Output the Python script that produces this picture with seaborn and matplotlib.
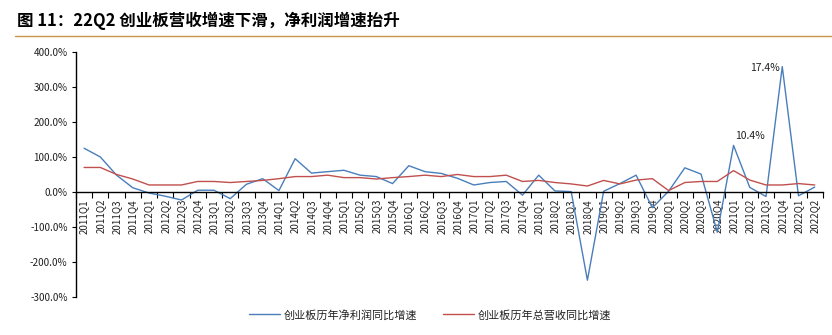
import matplotlib
matplotlib.use("Agg")
import matplotlib.pyplot as plt
from matplotlib.ticker import FixedLocator, FuncFormatter
import numpy as np
import pandas as pd
import seaborn as sns

sns.set_theme(style="white")
plt.rcParams["font.family"] = ["Noto Sans CJK SC", "DejaVu Sans"]
plt.rcParams["axes.unicode_minus"] = False

quarters = [f"{y}Q{q}" for y in range(2011, 2023) for q in range(1, 5)][:46]

net_profit_yoy = [125, 100, 48, 12, -3, -12, -23, 5, 5, -19, 22, 38,
                  4, 95, 54, 58, 62, 48, 44, 24, 75, 58, 53, 39,
                  20, 27, 30, -9, 48, 3, 1, -252, 2, 24, 48, -45,
                  2, 69, 51, -115, 133, 13, -13, 358, -11, 14]

revenue_yoy = [70, 70, 50, 37, 20, 20, 20, 30, 30, 27, 30, 33,
               38, 44, 44, 48, 41, 41, 37, 41, 44, 48, 44, 50,
               44, 44, 48, 30, 33, 27, 23, 17, 33, 23, 34, 38,
               4, 27, 30, 30, 61, 34, 20, 20, 24, 20]

series_names = ["创业板历年净利润同比增速", "创业板历年总营收同比增速"]
series_colors = ["#4a7ebb", "#c0504d"]

y_ticks = [400, 300, 200, 100, 0, -100, -200, -300]

annotations = [("10.4%", 41.0, 160), ("17.4%", 42.85, 354)]

title = "图 11：22Q2 创业板营收增速下滑，净利润增速抬升"

df = pd.DataFrame({
    "idx": list(range(len(quarters))) * 2,
    "value": net_profit_yoy + revenue_yoy,
    "series": [series_names[0]] * len(quarters) + [series_names[1]] * len(quarters),
})

fig = plt.figure(figsize=(8.32, 3.35), dpi=100)
ax = fig.add_axes([0.0913, 0.1134, 0.8977, 0.7316])

sns.lineplot(data=df, x="idx", y="value", hue="series", palette=series_colors,
             hue_order=series_names, linewidth=1.0, ax=ax, legend=False)

ax.set_xlim(-0.5, len(quarters) - 0.5)
ax.set_ylim(-300, 400)
ax.set_xlabel("")
ax.set_ylabel("")

# y axis
ax.set_yticks(y_ticks)
ax.yaxis.set_major_formatter(FuncFormatter(lambda v, p: f"{v:.1f}%"))
ax.tick_params(axis="y", which="major", direction="out", length=3, width=0.8,
               color="black", labelsize=7.2, labelcolor="#222222", pad=3, left=True)

# x axis sits on the zero line: labels at quarter centres, tick marks at boundaries
ax.spines["bottom"].set_position(("data", 0))
ax.xaxis.set_major_locator(FixedLocator(list(range(len(quarters)))))
ax.set_xticklabels(quarters, rotation=90, fontsize=7.0, color="#222222")
ax.xaxis.set_minor_locator(FixedLocator(list(np.arange(-0.5, len(quarters), 1.0))))
ax.tick_params(axis="x", which="major", length=0, pad=5)
ax.tick_params(axis="x", which="minor", direction="out", length=4, width=0.8,
               color="black", bottom=True)

for side in ["top", "right"]:
    ax.spines[side].set_visible(False)
for side in ["left", "bottom"]:
    ax.spines[side].set_visible(True)
    ax.spines[side].set_color("black")
    ax.spines[side].set_linewidth(1.0)
ax.grid(False)

ax.text(annotations[0][1], annotations[0][2], annotations[0][0], ha="center",
        va="center", fontsize=7.5, color="#222222")
ax.text(annotations[1][1], annotations[1][2], annotations[1][0], ha="right",
        va="center", fontsize=7.5, color="#222222")

# legend below the plot
handles = [plt.Line2D([], [], color=c, linewidth=1.0) for c in series_colors]
fig.legend(handles, series_names, loc="center", bbox_to_anchor=(0.517, 0.06),
           ncol=2, frameon=False, fontsize=8, handlelength=2.8,
           columnspacing=2.25, handletextpad=0.36, labelcolor="#222222")

# header
fig.text(0.020, 0.937, title, fontsize=11.9, fontweight="bold", color="black",
         ha="left", va="center")
fig.add_artist(plt.Line2D([0.018, 1.0], [0.892, 0.892], color="#c8954a",
                          linewidth=1.0, transform=fig.transFigure))

fig.savefig("out.png", dpi=100, facecolor="white")
